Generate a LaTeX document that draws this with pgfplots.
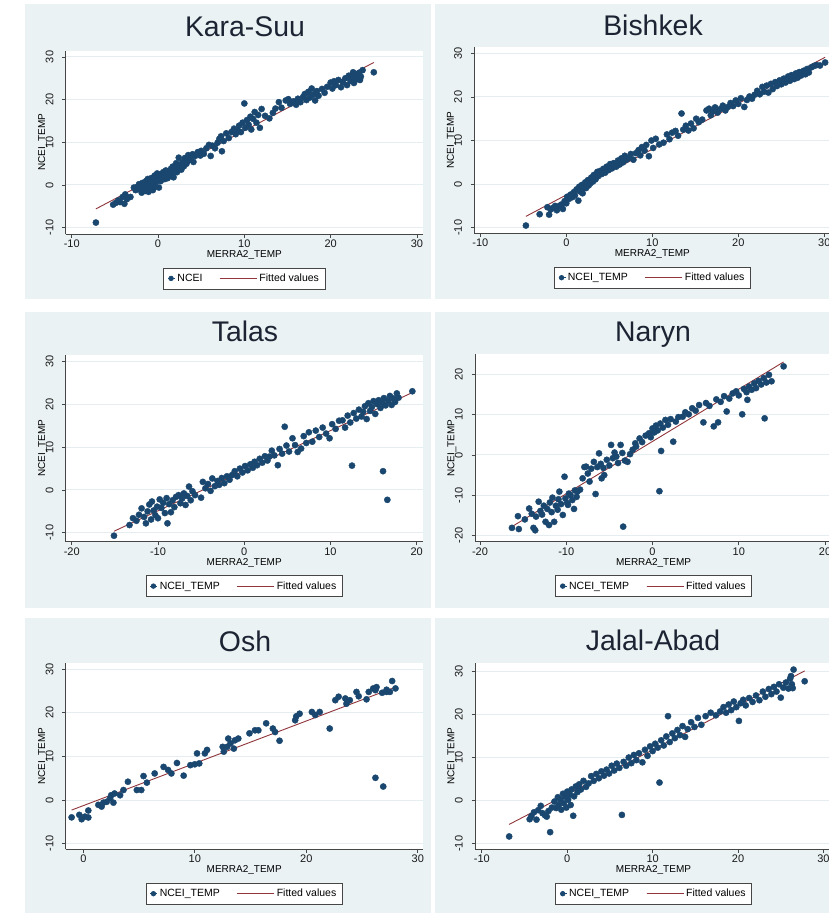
\documentclass[border=0pt]{standalone}
\usepackage{fontspec}
\setmainfont{Liberation Sans}
\usepackage{pgfplots}
\pgfplotsset{compat=1.18}
\definecolor{panelbg}{RGB}{234,242,243}
\definecolor{navy}{RGB}{26,71,111}
\definecolor{fitc}{RGB}{144,53,59}
\definecolor{gridc}{RGB}{230,237,240}
\definecolor{axc}{RGB}{70,70,70}
\definecolor{titlec}{RGB}{28,36,52}
\pgfplotsset{
  stata/.style={
    scale only axis, anchor=south west,
    axis lines*=left,
    axis line style={axc, line width=0.9pt},
    axis background/.style={fill=white},
    tick align=outside, major tick length=3.5pt,
    every tick/.style={axc, line width=0.8pt},
    ymajorgrids, major grid style={gridc, line width=1pt},
    tick label style={font=\fontsize{11}{12}\selectfont, text=black!90},
    yticklabel style={rotate=90, anchor=south, inner sep=8.5pt},
    xticklabel style={anchor=north, inner sep=2pt},
    xlabel={MERRA2\_TEMP}, ylabel={NCEI\_TEMP},
    label style={font=\fontsize{10.5}{12}\selectfont},
    every axis x label/.style={at={(axis description cs:0.5,0)}, anchor=north, yshift=-16.5pt, inner sep=0pt},
    every axis y label/.style={at={(axis description cs:-0.0645,0.5)}, rotate=90, anchor=center, inner sep=0pt},
    legend columns=2,
    legend cell align=left,
    legend style={at={(0.5,0)}, anchor=north, yshift=-33.5pt, draw=axc, line width=0.7pt, fill=white,
      font=\fontsize{10.5}{12}\selectfont, inner xsep=4pt, inner ysep=4pt,
      /tikz/every even column/.append style={column sep=15pt}},
  },
  pts/.style={only marks, mark=*, mark size=3.1pt, color=navy, mark options={draw=navy, fill=navy},
    legend image code/.code={\path (-3pt,0pt) -- (4pt,0pt); \draw[##1, mark size=2.3pt] plot coordinates {(0pt,0pt)};}},
  fit/.style={fitc, line width=0.9pt, no marks,
    legend image code/.code={\path (0pt,0pt) -- (37pt,0pt); \draw[##1] (0pt,0pt) -- (34pt,0pt);}},
}
\begin{document}
\begin{tikzpicture}
\path[use as bounding box] (0,0) rectangle (829pt,-913pt);
\clip (0,0) rectangle (829pt,-913pt);
\fill[panelbg] (25pt,-4pt) rectangle (431pt,-299.3pt);
\fill[panelbg] (434.5pt,-4pt) rectangle (845pt,-299.3pt);
\fill[panelbg] (25pt,-312pt) rectangle (431pt,-608pt);
\fill[panelbg] (434.5pt,-312pt) rectangle (845pt,-608pt);
\fill[panelbg] (25pt,-618pt) rectangle (431pt,-920pt);
\fill[panelbg] (434.5pt,-618pt) rectangle (845pt,-920pt);

% ---------------- Kara-Suu ----------------
\begin{axis}[stata, at={(65.7pt,-234pt)}, width=357.3pt, height=183.4pt,
  xmin=-10.7, xmax=30.7, ymin=-11.48, ymax=31.48,
  xtick={-10,0,10,20,30}, xticklabels={-10,0,10,20,30},
  ytick={-10,0,10,20,30}, yticklabels={-10,0,10,20,30}]
\addplot[pts] coordinates {
(-7.2,-8.8) (-5.2,-4.6) (-4.9,-4.2) (-4.6,-3.6) (-4.4,-4.0) (-4.1,-2.8) (-3.9,-4.4) (-3.8,-2.2)
(-3.6,-3.3) (-3.2,-2.8) (-2.8,-0.6) (-2.6,-1.2) (-2.4,-0.4) (-2.2,0.2) (-2.1,-1.0) (-1.9,-1.8)
(-1.8,0.5) (-1.7,-0.6) (-1.5,-1.4) (-1.4,0.9) (-1.3,-0.2) (-1.2,1.4) (-1.1,-1.6) (-1.0,0.4)
(-0.9,-0.8) (-0.8,1.6) (-0.7,0.2) (-0.6,-1.2) (-0.5,1.0) (-0.4,2.2) (-0.3,-0.4) (-0.2,0.8)
(-0.1,2.7) (0.0,1.5) (0.1,-0.6) (0.2,2.0) (0.3,0.9) (0.4,2.6) (0.5,1.3) (0.6,3.0)
(0.7,2.1) (0.8,1.4) (0.9,3.4) (1.0,2.5) (1.1,1.6) (1.2,3.2) (1.3,2.0) (1.5,3.8)
(1.6,2.5) (1.7,4.3) (1.8,1.8) (1.9,3.4) (2.1,5.1) (2.2,3.0) (2.3,4.0) (2.4,6.4)
(2.5,4.6) (2.7,3.6) (2.8,5.3) (3.0,4.4) (3.1,6.3) (3.3,5.0) (3.5,7.0) (3.6,5.8)
(3.8,6.6) (4.0,7.2) (4.1,5.4) (4.3,6.8) (4.6,7.7) (4.9,6.9) (5.0,8.0) (5.3,7.3)
(5.6,8.6) (5.9,9.4) (6.1,6.8) (6.3,9.2) (6.6,8.6) (6.9,9.9) (7.1,10.8) (7.3,11.4)
(7.4,7.9) (7.6,10.3) (7.9,12.1) (8.2,11.0) (8.5,12.4) (8.8,13.2) (9.0,11.9) (9.2,12.8)
(9.4,13.9) (9.6,12.4) (9.8,14.6) (10.0,19.1) (10.1,13.4) (10.3,15.2) (10.5,14.1) (10.7,16.0)
(10.8,13.0) (11.0,15.5) (11.2,17.1) (11.4,14.6) (11.6,16.4) (11.8,13.4) (12.0,17.8) (12.4,16.2)
(12.9,15.6) (13.3,16.9) (13.6,17.9) (14.0,19.4) (14.3,18.1) (14.8,19.8) (15.1,20.1) (15.3,19.0)
(15.7,19.6) (16.0,18.8) (16.2,20.2) (16.5,19.4) (16.8,20.6) (17.0,21.3) (17.2,19.9) (17.4,21.8)
(17.6,20.5) (17.8,22.6) (18.0,21.2) (18.2,19.8) (18.4,22.0) (18.6,20.9) (19.0,22.5) (19.3,21.6)
(19.6,23.0) (20.0,24.0) (20.2,22.6) (20.4,24.3) (20.6,23.4) (20.9,24.6) (21.2,22.9) (21.4,24.1)
(21.7,25.0) (21.9,23.4) (22.1,25.6) (22.3,24.4) (22.5,25.2) (22.7,23.9) (22.9,25.9) (23.1,24.8)
(23.3,26.3) (23.5,25.4) (23.7,26.9) (23.4,24.6) (22.6,26.4) (25.0,26.4)
};
\addlegendentry{NCEI}
\addplot[fit] coordinates {(-7.2,-5.6) (25.0,28.7)};
\addlegendentry{Fitted values}
\end{axis}

% ---------------- Bishkek ----------------
\begin{axis}[stata, at={(474.3pt,-233.3pt)}, width=356pt, height=186.3pt,
  xmin=-10.7, xmax=30.7, ymin=-11.28, ymax=31.45,
  xtick={-10,0,10,20,30}, xticklabels={-10,0,10,20,30},
  ytick={-10,0,10,20,30}, yticklabels={-10,0,10,20,30}]
\addplot[pts] coordinates {
(-4.7,-9.5) (-3.1,-6.9) (-2.2,-5.3) (-2.0,-7.0) (-1.8,-5.8) (-1.6,-5.5) (-1.3,-5.0) (-1.1,-6.0)
(-0.9,-5.1) (-0.6,-4.7) (-0.4,-5.7) (-0.2,-3.9) (0.0,-4.4) (0.1,-2.9) (0.3,-3.4) (0.5,-2.4)
(0.7,-3.0) (0.9,-1.8) (1.0,-2.6) (1.2,-1.2) (1.4,-3.8) (1.5,-0.6) (1.6,-1.7) (1.8,-0.2)
(1.9,-2.1) (2.0,-0.9) (2.2,0.4) (2.3,-0.9) (2.5,0.9) (2.6,-0.3) (2.8,0.2) (2.9,1.5)
(3.1,0.6) (3.2,2.1) (3.4,1.1) (3.6,2.8) (3.7,1.8) (3.9,3.0) (4.1,2.3) (4.3,3.5)
(4.5,2.6) (4.7,4.0) (4.9,3.2) (5.1,4.6) (5.3,3.6) (5.5,4.8) (5.8,4.0) (6.0,5.4)
(6.2,4.5) (6.4,5.9) (6.6,5.0) (6.8,6.5) (7.0,5.6) (7.3,6.0) (7.5,6.9) (7.8,5.6)
(8.1,7.1) (8.4,7.8) (8.6,6.6) (8.8,8.5) (9.1,7.7) (9.3,9.0) (9.6,6.4) (9.9,10.0)
(10.1,8.3) (10.4,10.4) (10.8,9.1) (11.3,9.5) (11.7,11.4) (12.0,10.3) (12.3,11.8) (12.7,12.2)
(13.0,11.1) (13.4,16.2) (13.6,12.5) (13.9,13.4) (14.2,12.3) (14.5,13.9) (14.8,12.8) (15.1,15.0)
(15.4,14.2) (15.8,14.8) (16.3,16.9) (16.6,17.3) (16.8,15.8) (17.0,16.6) (17.3,17.6) (17.6,16.4)
(17.9,17.2) (18.2,18.0) (18.5,16.9) (18.8,17.7) (19.1,18.6) (19.4,17.9) (19.7,19.2) (20.0,18.4)
(20.3,19.7) (20.7,17.7) (21.0,19.3) (21.3,20.1) (21.6,19.6) (21.9,20.5) (22.2,21.4) (22.5,20.6)
(22.8,22.3) (23.0,21.2) (23.3,22.6) (23.5,21.0) (23.8,23.0) (24.0,21.8) (24.3,23.4) (24.5,22.5)
(24.8,23.8) (25.0,22.9) (25.3,24.2) (25.5,23.3) (25.8,24.7) (26.0,23.7) (26.2,25.0) (26.5,24.1)
(26.7,25.4) (26.9,24.4) (27.1,25.7) (27.3,24.9) (27.6,26.0) (27.8,25.2) (28.0,26.4) (28.2,25.6)
(28.5,26.8) (28.8,27.1) (29.1,27.3) (29.5,27.2) (30.1,27.9)
};
\addlegendentry{NCEI\_TEMP}
\addplot[fit] coordinates {(-4.7,-7.4) (30.1,29.1)};
\addlegendentry{Fitted values}
\end{axis}

% ---------------- Talas ----------------
\begin{axis}[stata, at={(65.7pt,-541.7pt)}, width=357pt, height=187.2pt,
  xmin=-20.7, xmax=20.7, ymin=-12.1, ymax=31.7,
  xtick={-20,-10,0,10,20}, xticklabels={-20,-10,0,10,20},
  ytick={-10,0,10,20,30}, yticklabels={-10,0,10,20,30}]
\addplot[pts] coordinates {
(-15.1,-10.7) (-13.3,-8.2) (-12.9,-6.6) (-12.5,-7.2) (-12.2,-5.8) (-11.9,-4.3) (-11.6,-6.3) (-11.4,-7.8)
(-11.2,-5.0) (-11.0,-3.4) (-10.8,-6.9) (-10.7,-2.7) (-10.5,-4.8) (-10.3,-5.9) (-10.1,-3.9) (-10.0,-6.6)
(-9.8,-2.2) (-9.6,-4.2) (-9.4,-3.0) (-9.2,-5.4) (-9.0,-1.9) (-8.9,-7.8) (-8.7,-3.3) (-8.5,-5.2)
(-8.3,-2.4) (-8.1,-4.0) (-7.9,-1.6) (-7.6,-1.2) (-7.4,-3.1) (-7.2,-2.0) (-7.0,-0.8) (-6.8,-3.5)
(-6.6,-1.4) (-6.4,0.8) (-6.2,-2.4) (-6.0,-0.3) (-5.7,-1.2) (-5.0,-1.8) (-4.8,1.9) (-4.5,0.4)
(-4.2,1.4) (-3.9,-0.2) (-3.7,2.7) (-3.4,0.9) (-3.1,2.1) (-2.9,1.2) (-2.6,2.8) (-2.3,1.6)
(-2.0,3.2) (-1.7,2.4) (-1.4,3.5) (-1.1,4.4) (-0.8,3.2) (-0.5,5.0) (-0.2,4.1) (0.1,5.6)
(0.4,4.6) (0.7,6.0) (1.0,5.2) (1.2,6.6) (1.5,5.8) (1.8,7.3) (2.1,6.4) (2.4,7.9)
(2.7,6.9) (2.9,7.8) (3.2,9.2) (3.5,8.1) (3.9,5.8) (4.1,9.6) (4.4,8.5) (4.7,14.8)
(4.9,10.4) (5.2,9.0) (5.6,12.1) (5.9,10.5) (6.2,8.9) (6.6,9.7) (6.9,12.6) (7.2,11.0)
(7.5,13.5) (7.9,11.3) (8.3,13.9) (8.7,12.4) (9.1,14.6) (9.5,13.2) (9.9,12.1) (10.2,15.4)
(10.6,14.3) (11.0,16.2) (11.4,16.3) (11.7,14.6) (12.0,17.4) (12.3,15.8) (12.5,5.7) (12.7,18.0)
(13.0,16.7) (13.3,18.8) (13.6,17.2) (13.8,18.3) (14.0,19.6) (14.2,16.6) (14.4,20.3) (14.6,18.5)
(14.8,19.4) (15.0,20.8) (15.2,17.8) (15.4,20.1) (15.6,21.0) (15.8,19.2) (16.0,20.5) (16.1,4.4)
(16.2,21.5) (16.4,19.8) (16.6,-2.3) (16.7,20.9) (16.9,22.0) (17.1,19.9) (17.3,21.4) (17.5,20.6)
(17.7,22.6) (17.9,21.6) (19.5,23.1)
};
\addlegendentry{NCEI\_TEMP}
\addplot[fit] coordinates {(-15.1,-9.65) (19.5,22.8)};
\addlegendentry{Fitted values}
\end{axis}

% ---------------- Naryn ----------------
\begin{axis}[stata, at={(475pt,-541.7pt)}, width=357pt, height=187.4pt,
  xmin=-20.58, xmax=20.81, ymin=-21.54, ymax=25.0,
  xtick={-20,-10,0,10,20}, xticklabels={-20,-10,0,10,20},
  ytick={-20,-10,0,10,20}, yticklabels={-20,-10,0,10,20}]
\addplot[pts] coordinates {
(-16.3,-18.1) (-15.6,-15.2) (-15.5,-18.4) (-14.8,-16.0) (-14.3,-13.3) (-14.0,-14.6) (-13.8,-18.1) (-13.6,-18.7)
(-13.5,-15.3) (-13.2,-11.6) (-13.0,-13.9) (-12.8,-14.8) (-12.6,-12.6) (-12.4,-16.6) (-12.2,-13.4) (-12.0,-17.4)
(-11.9,-11.8) (-11.7,-14.2) (-11.6,-10.6) (-11.4,-16.6) (-11.2,-12.6) (-11.0,-13.6) (-10.9,-11.0) (-10.8,-9.1)
(-10.6,-12.2) (-10.4,-14.9) (-10.2,-5.4) (-10.1,-10.8) (-9.9,-11.9) (-9.8,-12.4) (-9.7,-9.6) (-9.5,-10.0)
(-9.3,-11.2) (-9.1,-13.4) (-9.0,-8.8) (-8.8,-10.4) (-8.7,-9.1) (-8.4,-8.6) (-8.1,-5.8) (-7.9,-3.0)
(-7.7,-2.9) (-7.5,-4.6) (-7.3,-6.6) (-7.1,-3.4) (-6.8,-1.7) (-6.6,-9.7) (-6.4,-3.0) (-6.2,0.4)
(-6.0,-2.2) (-5.9,-5.8) (-5.7,-3.2) (-5.6,-5.0) (-5.3,-1.2) (-5.0,-2.6) (-4.8,2.5) (-4.6,-0.8)
(-4.4,0.6) (-4.2,-0.4) (-4.0,-2.0) (-3.7,2.5) (-3.5,0.5) (-3.4,-17.8) (-3.2,-1.4) (-2.9,-1.7)
(-2.6,0.2) (-2.3,1.3) (-2.0,2.9) (-1.9,2.1) (-1.5,4.1) (-1.2,3.2) (-0.8,4.8) (-0.4,5.4)
(-0.2,4.4) (0.0,6.6) (0.2,5.6) (0.4,7.3) (0.6,6.1) (0.8,-9.0) (0.9,7.8) (1.0,1.0)
(1.2,6.8) (1.5,8.7) (1.8,7.5) (2.1,8.9) (2.4,3.3) (2.7,8.3) (3.0,9.4) (3.5,9.5)
(3.8,10.6) (4.2,10.1) (4.6,11.6) (5.0,11.0) (5.4,12.4) (5.9,8.1) (6.2,12.9) (6.6,12.2)
(7.1,7.1) (7.4,13.8) (7.6,8.1) (7.9,13.2) (8.3,14.6) (8.6,10.8) (8.9,14.0) (9.3,15.3)
(9.7,15.8) (10.0,14.8) (10.4,10.1) (10.6,16.4) (10.9,15.6) (11.0,13.7) (11.2,17.0) (11.5,16.2)
(11.8,17.8) (12.0,16.6) (12.3,18.4) (12.6,17.5) (12.9,19.1) (13.0,9.1) (13.2,18.0) (13.5,19.9)
(13.8,18.3) (15.2,22.0)
};
\addlegendentry{NCEI\_TEMP}
\addplot[fit] coordinates {(-16.3,-17.8) (15.2,23.1)};
\addlegendentry{Fitted values}
\end{axis}

% ---------------- Osh ----------------
\begin{axis}[stata, at={(65.7pt,-849.3pt)}, width=357pt, height=186.6pt,
  xmin=-1.58, xmax=30.44, ymin=-11.3, ymax=31.5,
  xtick={0,10,20,30}, xticklabels={0,10,20,30},
  ytick={-10,0,10,20,30}, yticklabels={-10,0,10,20,30}]
\addplot[pts] coordinates {
(-1.05,-3.97) (-0.36,-3.4) (-0.15,-4.4) (0.15,-3.8) (0.45,-4.0) (0.45,-2.4) (1.35,-1.1) (1.64,-1.5)
(1.8,-0.6) (2.1,-0.4) (2.4,0.4) (2.5,1.1) (2.7,-0.6) (2.8,1.5) (3.3,1.1) (3.6,2.3)
(4.0,4.2) (4.8,2.3) (5.2,2.3) (5.4,5.5) (5.7,4.0) (6.4,6.1) (7.2,7.6) (7.6,6.9)
(7.9,6.1) (8.4,8.5) (9.0,5.6) (9.6,8.0) (10.0,8.2) (10.2,10.7) (10.4,8.4) (10.9,10.7)
(11.1,11.5) (12.5,12.2) (12.6,11.1) (12.9,12.2) (13.0,14.1) (13.2,13.0) (13.5,11.8) (13.6,13.7)
(13.9,14.1) (14.9,15.3) (15.4,16.0) (15.7,16.0) (16.4,17.6) (17.0,16.4) (17.2,15.6) (17.6,13.6)
(19.0,18.3) (19.1,19.2) (19.4,19.8) (20.5,20.2) (20.8,19.5) (21.2,20.2) (22.1,16.4) (22.6,22.9)
(22.9,23.7) (23.5,23.3) (23.6,22.1) (23.9,22.9) (24.5,24.8) (24.7,23.8) (25.4,23.1) (25.6,24.8)
(26.0,25.6) (26.2,25.2) (26.3,25.9) (26.8,24.6) (27.2,25.3) (27.2,24.8) (27.5,24.8) (27.7,27.3)
(28.0,25.6) (26.2,5.1) (26.9,3.1)
};
\addlegendentry{NCEI\_TEMP}
\addplot[fit] coordinates {(-1.05,-2.3) (28.0,25.9)};
\addlegendentry{Fitted values}
\end{axis}

% ---------------- Jalal-Abad ----------------
\begin{axis}[stata, at={(475pt,-849.3pt)}, width=357pt, height=186.6pt,
  xmin=-10.8, xmax=31.0, ymin=-11.28, ymax=32.0,
  xtick={-10,0,10,20,30}, xticklabels={-10,0,10,20,30},
  ytick={-10,0,10,20,30}, yticklabels={-10,0,10,20,30}]
\addplot[pts] coordinates {
(-6.8,-8.3) (-4.4,-4.3) (-4.2,-3.6) (-3.9,-2.7) (-3.6,-4.4) (-3.4,-2.2) (-3.1,-1.2) (-2.9,-2.9)
(-2.6,-3.4) (-2.4,-3.7) (-2.2,-2.4) (-2.0,-7.3) (-1.8,-1.6) (-1.5,-0.2) (-1.3,-1.7) (-1.1,0.8)
(-1.0,-1.0) (-0.8,0.3) (-0.7,-2.1) (-0.5,1.6) (-0.4,-0.6) (-0.2,0.9) (-0.1,-1.6) (0.0,2.1)
(0.1,0.2) (0.3,1.4) (0.4,-1.0) (0.5,2.6) (0.7,-3.5) (0.8,1.0) (1.0,3.3) (1.2,2.0)
(1.4,3.8) (1.6,2.6) (1.9,4.6) (2.2,3.2) (2.5,4.0) (2.8,5.7) (3.1,4.6) (3.4,6.2)
(3.7,5.2) (4.0,6.8) (4.3,5.8) (4.6,7.2) (4.9,6.3) (5.2,8.1) (5.5,7.0) (5.8,8.6)
(6.1,7.6) (6.4,-3.3) (6.6,9.0) (6.9,8.1) (7.2,10.0) (7.5,8.7) (7.8,10.6) (8.1,9.4)
(8.4,11.0) (8.8,8.9) (9.1,11.8) (9.4,10.4) (9.7,12.6) (10.0,11.5) (10.3,13.2) (10.6,12.3)
(10.8,4.2) (11.0,14.0) (11.3,12.8) (11.6,14.9) (11.8,19.6) (12.0,13.6) (12.3,15.6) (12.6,14.5)
(12.9,16.4) (13.2,15.2) (13.5,17.3) (13.8,14.8) (14.1,16.6) (14.5,18.2) (14.9,17.1) (15.3,19.2)
(15.7,17.6) (16.2,19.6) (16.8,20.4) (17.4,19.8) (17.9,20.7) (18.3,21.7) (18.6,20.4) (18.9,22.3)
(19.2,21.0) (19.5,23.0) (19.8,21.7) (20.1,18.5) (20.3,22.6) (20.6,23.4) (20.9,22.1) (21.3,23.8)
(21.7,22.9) (22.1,24.4) (22.5,23.3) (22.9,25.3) (23.2,24.1) (23.6,25.9) (23.9,24.7) (24.2,26.4)
(24.5,25.3) (24.8,27.0) (25.0,23.9) (25.3,26.2) (25.6,27.4) (25.9,26.0) (26.1,28.3) (26.3,27.0)
(26.5,30.4) (26.4,26.1) (26.2,28.9) (27.8,27.7)
};
\addlegendentry{NCEI\_TEMP}
\addplot[fit] coordinates {(-6.8,-5.5) (27.8,30.1)};
\addlegendentry{Fitted values}
\end{axis}

% titles
\node[font=\fontsize{28.4}{30}\selectfont, text=titlec, anchor=base] at (245pt,-36pt) {Kara-Suu};
\node[font=\fontsize{28.4}{30}\selectfont, text=titlec, anchor=base] at (653pt,-35pt) {Bishkek};
\node[font=\fontsize{28.4}{30}\selectfont, text=titlec, anchor=base] at (245pt,-341.7pt) {Talas};
\node[font=\fontsize{28.4}{30}\selectfont, text=titlec, anchor=base] at (653pt,-341pt) {Naryn};
\node[font=\fontsize{28.4}{30}\selectfont, text=titlec, anchor=base] at (245pt,-651.7pt) {Osh};
\node[font=\fontsize{28.4}{30}\selectfont, text=titlec, anchor=base] at (653pt,-650pt) {Jalal-Abad};
\end{tikzpicture}
\end{document}
